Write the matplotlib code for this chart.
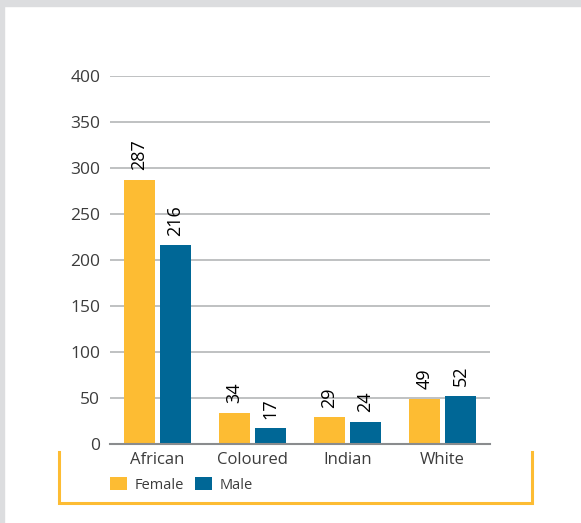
import numpy as np
import matplotlib.pyplot as plt
from matplotlib.lines import Line2D
from matplotlib.patches import Rectangle

plt.rcParams['font.family'] = ['Open Sans', 'DejaVu Sans']

groups = ["African", "Coloured", "Indian", "White"]
female = [287, 34, 29, 49]
male = [216, 17, 24, 52]
yticks = [0, 50, 100, 150, 200, 250, 300, 350, 400]

yellow = "#FDBC33"
blue = "#006796"
text_col = "#3c3c3c"

W, H = 581, 523
fig = plt.figure(figsize=(W / 100, H / 100), dpi=100)

# gray frame strips on top and left
fig.patches.append(Rectangle((0, 1 - 6 / H), 1, 6 / H, transform=fig.transFigure,
                             color="#dcdddf", zorder=0))
fig.patches.append(Rectangle((0, 0), 4 / W, 1, transform=fig.transFigure,
                             color="#dcdddf", zorder=0))

ax = fig.add_axes([110 / W, 1 - 444 / H, 380 / W, 368 / H])
x = np.arange(len(groups))
off = 18 / 95
bw = 31 / 95
b1 = ax.bar(x - off, female, bw, color=yellow, label="Female", zorder=3)
b2 = ax.bar(x + off, male, bw, color=blue, label="Male", zorder=3)

for bars, vals in ((b1, female), (b2, male)):
    for rect, v in zip(bars, vals):
        ax.annotate(str(v), (rect.get_x() + rect.get_width() / 2, v),
                    xytext=(0, 7), textcoords="offset points", rotation=90,
                    ha="center", va="bottom", fontsize=13, color="black")

ax.set_xlim(-0.5, 3.5)
ax.set_ylim(0, 400)
ax.set_yticks(yticks)
ax.set_xticks(x)
ax.set_xticklabels(groups)
ax.tick_params(axis="y", length=0, pad=7, labelsize=12.5, labelcolor=text_col)
ax.tick_params(axis="x", length=0, pad=6, labelsize=12, labelcolor=text_col)
ax.yaxis.grid(True, color="#b4b6b8", linewidth=1.2, zorder=0)
for s in ("top", "right", "left"):
    ax.spines[s].set_visible(False)
ax.spines["bottom"].set_color("#8a8c8e")
ax.spines["bottom"].set_linewidth(1.5)
ax.spines["bottom"].set_zorder(4)

leg = fig.legend(handles=[b1, b2], loc="center left",
                 bbox_to_anchor=(97 / W, 1 - 485 / H), ncol=2, frameon=False,
                 fontsize=10.5, handlelength=1.15, handleheight=1.0,
                 handletextpad=0.5, columnspacing=0.8)
for t in leg.get_texts():
    t.set_color(text_col)

# yellow bracket below the axis
bx = [59 / W, 59 / W, 532 / W, 532 / W]
by = [1 - 452 / H, 1 - 503 / H, 1 - 503 / H, 1 - 452 / H]
fig.lines.append(Line2D(bx, by, transform=fig.transFigure, color=yellow,
                        linewidth=2.2, solid_joinstyle="miter"))

fig.savefig("out.png", dpi=100)
